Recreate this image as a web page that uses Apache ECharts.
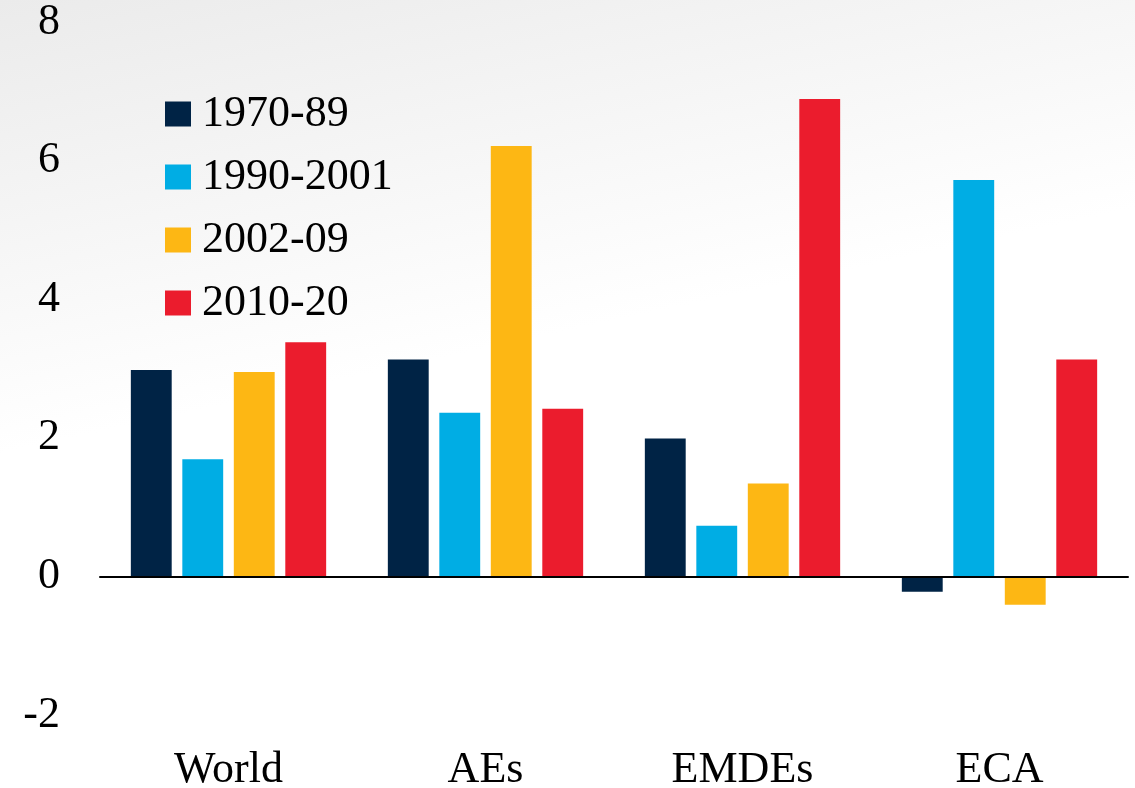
<!DOCTYPE html>
<html>
<head>
<meta charset="utf-8">
<title>Growth by period</title>
<script src="https://cdn.jsdelivr.net/npm/echarts@6/dist/echarts.min.js"></script>
<style>
  html, body { margin: 0; padding: 0; background: #fff; }
  #chart { width: 1135px; height: 788px; }
</style>
</head>
<body>
<div id="chart"></div>
<script>
// Regions on the category axis
const categories = ['World', 'AEs', 'EMDEs', 'ECA'];

// Period averages, one array per period
const p1970_89   = [2.98, 3.13, 1.99, -0.22];
const p1990_2001 = [1.69, 2.36, 0.73, 5.72];
const p2002_09   = [2.95, 6.21, 1.34, -0.41];
const p2010_20   = [3.38, 2.42, 6.89, 3.13];

const seriesNames = ['1970-89', '1990-2001', '2002-09', '2010-20'];
const seriesData = [p1970_89, p1990_2001, p2002_09, p2010_20];
const colors = ['#002345', '#00ADE4', '#FDB714', '#EB1C2D'];

const FONT = '"Liberation Serif", "DejaVu Serif", serif';
const FS = 44;

const chart = echarts.init(document.getElementById('chart'), null, { renderer: 'canvas' });

const option = {
  backgroundColor: {
    type: 'linear', x: 0, y: 0, x2: 0.15, y2: 1,
    colorStops: [
      { offset: 0, color: '#ebebeb' },
      { offset: 0.55, color: '#ffffff' },
      { offset: 1, color: '#ffffff' }
    ]
  },
  animation: false,
  color: colors,
  textStyle: { fontFamily: FONT, color: '#000' },
  legend: {
    orient: 'vertical',
    left: 165,
    top: 92,
    padding: 0,
    itemWidth: 26,
    itemHeight: 25,
    itemGap: 19,
    icon: 'rect',
    textStyle: { fontFamily: FONT, fontSize: FS, color: '#000', padding: [0, 0, 0, 6] },
    data: seriesNames
  },
  grid: {
    left: 100, right: 7, top: 22, bottom: 73,
    containLabel: false,
    outerBoundsMode: 'none'
  },
  xAxis: [
    {
      type: 'category',
      data: categories,
      axisLine: { onZero: true, lineStyle: { color: '#000', width: 2 } },
      axisTick: { show: false },
      axisLabel: { show: false },
      splitLine: { show: false },
      z: 10
    },
    {
      type: 'category',
      data: categories,
      position: 'bottom',
      axisLine: { show: false, onZero: false },
      axisTick: { show: false },
      axisLabel: { fontFamily: FONT, fontSize: FS, color: '#000', margin: 33 },
      splitLine: { show: false }
    }
  ],
  yAxis: {
    type: 'value',
    min: -2,
    max: 8,
    interval: 2,
    axisLine: { show: false },
    axisTick: { show: false },
    splitLine: { show: false },
    axisLabel: { fontFamily: FONT, fontSize: FS, color: '#000', margin: 40 }
  },
  series: seriesNames.map((name, i) => ({
    name: name,
    type: 'bar',
    xAxisIndex: 0,
    data: seriesData[i],
    barGap: '26%',
    barCategoryGap: '24%',
    itemStyle: { color: colors[i] }
  }))
};

chart.setOption(option);
</script>
</body>
</html>
